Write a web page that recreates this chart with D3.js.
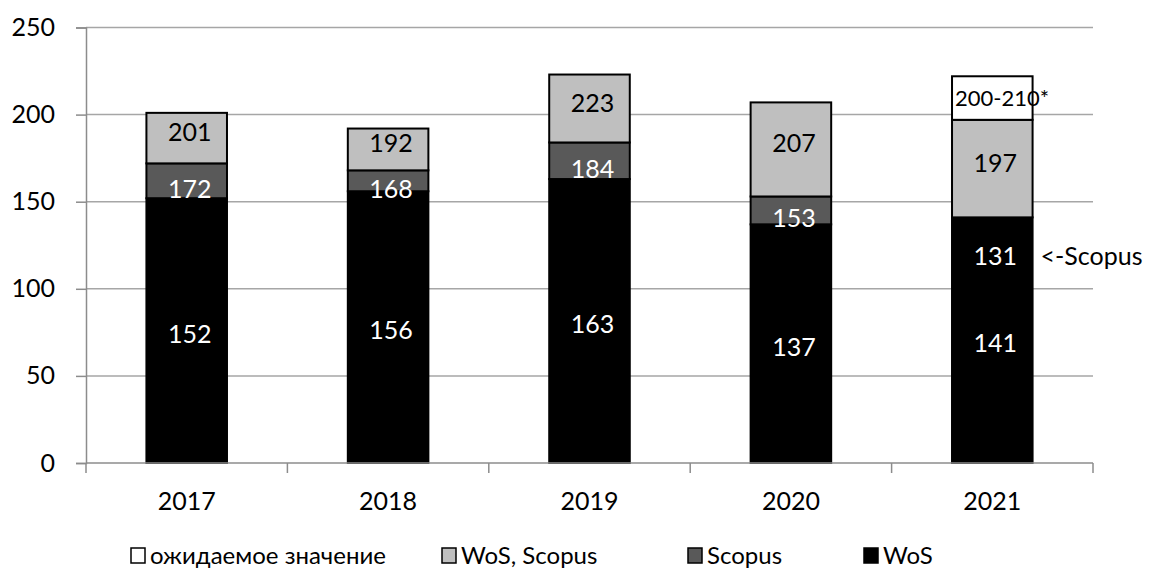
<!DOCTYPE html>
<html>
<head>
<meta charset="utf-8">
<script src="https://cdn.jsdelivr.net/npm/d3@7"></script>
<style>
  body { margin: 0; background: #fff; }
  svg { display: block; font-family: Lato, "Open Sans", sans-serif; }
</style>
</head>
<body>
<svg id="canvas" width="1150" height="568"></svg>
<script>
// chart values (cumulative totals as printed on the bars)
let years = ['2017', '2018', '2019', '2020', '2021']
let wos = [152, 156, 163, 137, 141]
let scopus = [172, 168, 184, 153, null]
let wosScopus = [201, 192, 223, 207, 197]
let expected = [null, null, null, null, 222]
let expectedLabels = ['', '', '', '', '200-210*']
let scopusNote2021 = 131
let yTicks = [0, 50, 100, 150, 200, 250]
let legendNames = ['ожидаемое значение', 'WoS, Scopus', 'Scopus', 'WoS']

let colors = { wos: '#000000', scopus: '#595959', both: '#bfbfbf', expected: '#ffffff' }
let textColors = { wos: '#ffffff', scopus: '#ffffff', both: '#000000', expected: '#000000' }

let canvas = d3.select('#canvas')

let x = d3.scaleBand()
          .domain(years)
          .range([86, 1093])
          .paddingInner(0.6)
          .paddingOuter(0.3)

let y = d3.scaleLinear()
          .domain([0, 250])
          .range([463, 27.5])

// turn cumulative totals into stack increments
let rows = years.map((yr, i) => {
    let s = scopus[i] == null ? wos[i] : scopus[i]
    let e = expected[i] == null ? wosScopus[i] : expected[i]
    return {
        year: yr,
        wos: wos[i],
        scopus: s - wos[i],
        both: wosScopus[i] - s,
        expected: e - wosScopus[i],
        labels: {
            wos: String(wos[i]),
            scopus: scopus[i] == null ? '' : String(scopus[i]),
            both: String(wosScopus[i]),
            expected: expectedLabels[i]
        }
    }
})

let keys = ['wos', 'scopus', 'both', 'expected']
let series = d3.stack().keys(keys)(rows)

// gridlines
canvas.append('g')
    .selectAll('line')
    .data(yTicks.filter(t => t > 0))
    .enter()
    .append('line')
    .attr('x1', 86)
    .attr('x2', 1093)
    .attr('y1', d => y(d))
    .attr('y2', d => y(d))
    .attr('stroke', '#a6a6a6')
    .attr('stroke-width', 1.5)

// y axis
let yAxis = d3.axisLeft(y).tickValues(yTicks).tickSize(10).tickPadding(21)
let yg = canvas.append('g').attr('transform', 'translate(86,0)').call(yAxis)
yg.select('.domain').attr('stroke', '#8c8c8c').attr('stroke-width', 1.5)
yg.selectAll('.tick line').attr('stroke', '#8c8c8c').attr('stroke-width', 1.5)
yg.selectAll('.tick text')
    .attr('font-size', 25)
    .attr('fill', '#000')
    .attr('font-family', 'Lato, "Open Sans", sans-serif')

// bars
let groups = canvas.append('g')
    .selectAll('g')
    .data(series)
    .enter()
    .append('g')
    .attr('fill', s => colors[s.key])

groups.selectAll('rect')
    .data(s => s.filter(d => d[1] - d[0] > 0))
    .enter()
    .append('rect')
    .attr('x', d => x(d.data.year))
    .attr('width', x.bandwidth())
    .attr('y', d => y(d[1]))
    .attr('height', d => y(d[0]) - y(d[1]))
    .attr('stroke', '#000')
    .attr('stroke-width', 2)

// x axis
let xg = canvas.append('g')
let bounds = years.map(yr => x(yr) - x.step() * x.paddingInner() / 2).concat([1093])
xg.append('line')
    .attr('x1', 86).attr('x2', 1093)
    .attr('y1', y(0)).attr('y2', y(0))
    .attr('stroke', '#8c8c8c').attr('stroke-width', 1.5)
xg.selectAll('.tk')
    .data(bounds)
    .enter()
    .append('line')
    .attr('x1', d => d).attr('x2', d => d)
    .attr('y1', y(0)).attr('y2', y(0) + 10)
    .attr('stroke', '#8c8c8c').attr('stroke-width', 1.5)
xg.selectAll('text')
    .data(years)
    .enter()
    .append('text')
    .attr('x', d => x(d) + x.bandwidth() / 2)
    .attr('y', 510)
    .attr('text-anchor', 'middle')
    .attr('font-size', 25)
    .text(d => d)

// value labels
let offsets = { wos: 3, scopus: 8, both: -6, expected: 0 }
series.forEach(s => {
    let isExp = s.key === 'expected'
    canvas.append('g')
        .selectAll('text')
        .data(s.filter(d => d.data.labels[s.key] !== ''))
        .enter()
        .append('text')
        .attr('x', d => isExp ? x(d.data.year) + 3 : x(d.data.year) + x.bandwidth() / 2 + 3)
        .attr('y', d => (y(d[0]) + y(d[1])) / 2 + offsets[s.key])
        .attr('dy', '0.36em')
        .attr('text-anchor', isExp ? 'start' : 'middle')
        .attr('font-size', isExp ? 22 : 25)
        .attr('fill', textColors[s.key])
        .text(d => d.data.labels[s.key])
})

// 2021 Scopus note inside the WoS bar
let last = years[years.length - 1]
canvas.append('text')
    .attr('x', x(last) + x.bandwidth() / 2 + 3)
    .attr('y', y(wos[wos.length - 1]) + 39)
    .attr('dy', '0.36em')
    .attr('text-anchor', 'middle')
    .attr('font-size', 25)
    .attr('fill', '#fff')
    .text(scopusNote2021)
canvas.append('text')
    .attr('x', x(last) + x.bandwidth() + 8)
    .attr('y', y(wos[wos.length - 1]) + 39)
    .attr('dy', '0.36em')
    .attr('font-size', 25)
    .text('<-Scopus')

// legend
let legendX = [131, 442, 688, 864]
let legendKeys = ['expected', 'both', 'scopus', 'wos']
let legend = canvas.append('g')
    .selectAll('g')
    .data(legendNames)
    .enter()
    .append('g')
    .attr('transform', (d, i) => 'translate(' + legendX[i] + ', 0)')
legend.append('rect')
    .attr('x', 0).attr('y', 548)
    .attr('width', 14).attr('height', 15)
    .attr('fill', (d, i) => colors[legendKeys[i]])
    .attr('stroke', '#000')
    .attr('stroke-width', 1.5)
legend.append('text')
    .attr('x', 19)
    .attr('y', 564)
    .attr('font-size', 24)
    .text(d => d)
</script>
</body>
</html>
